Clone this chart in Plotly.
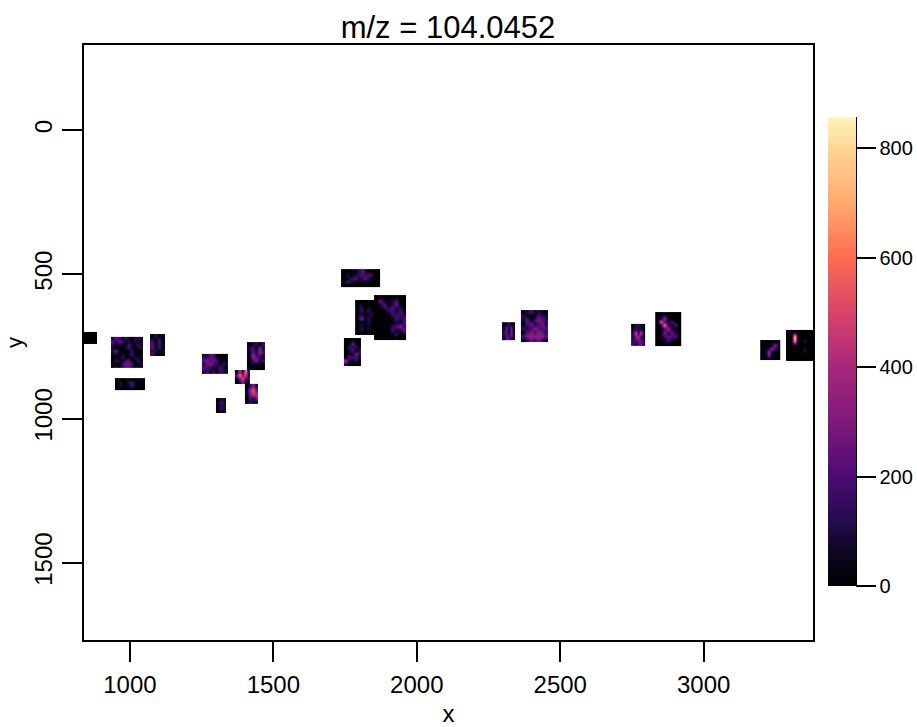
import numpy as np
import plotly.graph_objects as go

title = "m/z = 104.0452"
x_ticks = [1000, 1500, 2000, 2500, 3000]
y_ticks = [0, 500, 1000, 1500]
cbar_ticks = [0, 200, 400, 600, 800]

# colour ramp
ramp = [[0.0, "#000000"], [0.07, "#0d0722"], [0.14, "#250c4e"], [0.233, "#4d0a74"],
        [0.35, "#7d1a7a"], [0.467, "#a8277a"], [0.58, "#d9436b"], [0.70, "#fc6c50"],
        [0.82, "#feab6f"], [0.92, "#fed08f"], [1.0, "#fdf5b8"]]

# tile extents in data coordinates: x0, x1, y0, y1
t01 = (840, 885, 700, 742)
t02 = (934, 1045, 717, 825)
t03 = (1070, 1122, 707, 783)
t04 = (948, 1052, 860, 901)
t05 = (1251, 1342, 776, 846)
t06 = (1366, 1418, 832, 880)
t07 = (1408, 1471, 735, 832)
t08 = (1401, 1446, 880, 950)
t09 = (1300, 1335, 929, 981)
t10 = (1736, 1872, 482, 544)
t11 = (1785, 1865, 589, 711)
t12 = (1851, 1962, 572, 728)
t13 = (1746, 1805, 721, 818)
t14 = (2297, 2342, 666, 728)
t15 = (2363, 2457, 624, 735)
t16 = (2747, 2796, 672, 749)
t17 = (2831, 2921, 631, 749)
t18 = (3197, 3266, 728, 797)
t19 = (3287, 3381, 693, 801)

# intensity grids
z01 = [[0, 20, 5], [20, 0, 15], [0, 10, 0]]
z02 = [[90, 230, 170, 40, 150, 60, 20, 70, 130, 40],
       [210, 120, 260, 190, 30, 110, 10, 120, 30, 90],
       [160, 30, 110, 40, 15, 180, 90, 20, 160, 10],
       [60, 10, 20, 10, 90, 210, 40, 10, 100, 130],
       [120, 280, 60, 10, 30, 20, 170, 10, 20, 10],
       [30, 70, 10, 90, 10, 60, 190, 30, 10, 70],
       [10, 30, 20, 150, 20, 10, 10, 130, 60, 30],
       [20, 150, 90, 20, 200, 240, 30, 10, 170, 10],
       [60, 20, 10, 180, 290, 270, 190, 20, 40, 110],
       [10, 80, 30, 150, 230, 250, 170, 10, 90, 20]]
z03 = [[20, 130, 30, 60], [100, 10, 180, 10], [200, 20, 190, 20],
       [220, 60, 150, 10], [90, 120, 30, 100], [190, 20, 10, 30]]
z04 = [[0, 10, 0, 30, 10, 0, 40, 0],
       [10, 130, 0, 120, 210, 20, 10, 0],
       [0, 100, 0, 60, 170, 10, 0, 0],
       [0, 0, 20, 10, 0, 0, 0, 0]]
z05 = [[90, 120, 240, 200, 30, 10, 0, 20],
       [230, 280, 200, 260, 160, 20, 60, 10],
       [130, 250, 310, 210, 140, 50, 150, 20],
       [250, 170, 120, 80, 30, 220, 60, 10],
       [20, 180, 30, 200, 10, 150, 120, 60]]
z06 = [[0, 430, 80, 680, 60],
       [240, 600, 330, 520, 20],
       [0, 310, 540, 220, 130],
       [30, 90, 360, 60, 0]]
z07 = [[0, 60, 130, 20, 160],
       [100, 220, 40, 330, 70],
       [20, 280, 90, 370, 170],
       [50, 360, 230, 170, 40],
       [10, 190, 330, 90, 140],
       [0, 80, 20, 50, 0],
       [20, 0, 0, 20, 0]]
z08 = [[0, 130, 310, 50],
       [30, 370, 540, 200],
       [60, 280, 470, 390],
       [0, 190, 140, 340],
       [0, 120, 70, 30]]
z09 = [[10, 120, 20], [40, 190, 60], [0, 150, 90], [20, 170, 30], [0, 40, 0]]
z10 = [[0, 10, 20, 30, 130, 250, 40, 20, 0, 0],
       [0, 90, 10, 70, 180, 200, 150, 220, 20, 0],
       [10, 30, 130, 220, 90, 170, 240, 40, 10, 0],
       [20, 190, 100, 30, 20, 40, 0, 10, 0, 0],
       [0, 10, 0, 0, 10, 0, 0, 0, 0, 0]]
z11 = [[0, 0, 10, 0, 30, 0],
       [10, 130, 0, 50, 10, 20],
       [0, 180, 20, 140, 30, 0],
       [10, 100, 10, 60, 110, 10],
       [0, 330, 40, 120, 20, 0],
       [20, 60, 10, 130, 0, 10],
       [0, 90, 0, 50, 10, 0],
       [0, 140, 10, 90, 0, 0],
       [0, 10, 0, 0, 10, 0]]
z12 = [[10, 40, 0, 10, 10, 20, 10, 0],
       [10, 280, 80, 10, 90, 210, 20, 0],
       [0, 60, 250, 20, 120, 260, 40, 0],
       [20, 10, 80, 190, 230, 50, 160, 30],
       [0, 0, 10, 40, 180, 100, 220, 60],
       [10, 20, 0, 10, 60, 220, 110, 180],
       [0, 10, 10, 20, 10, 90, 40, 210],
       [0, 0, 20, 10, 130, 210, 330, 120],
       [10, 0, 10, 0, 180, 40, 110, 250],
       [0, 10, 0, 10, 20, 160, 10, 40],
       [0, 0, 0, 0, 10, 0, 10, 0]]
z13 = [[10, 0, 40, 0, 0],
       [0, 20, 340, 60, 0],
       [0, 170, 110, 150, 10],
       [10, 70, 230, 40, 100],
       [0, 40, 20, 310, 120],
       [40, 230, 170, 210, 10],
       [420, 60, 10, 130, 0],
       [130, 0, 20, 10, 0]]
z14 = [[20, 60, 130, 50, 10],
       [60, 280, 120, 290, 30],
       [100, 310, 30, 300, 70],
       [130, 240, 190, 270, 90],
       [30, 250, 220, 130, 20]]
z15 = [[20, 90, 190, 60, 100, 60, 10],
       [130, 60, 10, 30, 230, 170, 70],
       [60, 250, 40, 170, 290, 240, 130],
       [20, 200, 270, 90, 180, 300, 90],
       [140, 90, 190, 310, 250, 200, 220],
       [30, 240, 290, 200, 300, 260, 110],
       [170, 320, 350, 310, 360, 330, 230],
       [20, 120, 250, 170, 270, 150, 30]]
z16 = [[10, 110, 130, 70, 10],
       [50, 160, 70, 120, 30],
       [130, 520, 110, 470, 80],
       [100, 300, 420, 170, 40],
       [130, 190, 230, 280, 150],
       [170, 100, 190, 270, 90]]
z17 = [[0, 0, 40, 10, 0, 0, 0],
       [10, 40, 340, 40, 10, 10, 0],
       [50, 640, 220, 90, 210, 40, 0],
       [10, 70, 610, 150, 70, 190, 0],
       [0, 20, 150, 370, 60, 40, 10],
       [0, 30, 300, 110, 280, 130, 20],
       [10, 50, 150, 270, 200, 230, 10],
       [0, 10, 70, 180, 90, 30, 0],
       [0, 0, 10, 20, 0, 10, 0]]
z18 = [[0, 0, 10, 0, 0, 0],
       [0, 10, 20, 50, 320, 10],
       [50, 10, 90, 400, 150, 0],
       [0, 20, 440, 20, 10, 0],
       [0, 0, 370, 10, 0, 0],
       [0, 0, 0, 0, 0, 0]]
z19 = [[0, 0, 0, 0, 0, 0, 0, 0],
       [0, 0, 857, 10, 0, 0, 0, 0],
       [0, 10, 720, 0, 10, 120, 0, 0],
       [0, 0, 20, 0, 0, 10, 0, 0],
       [0, 0, 0, 0, 10, 130, 0, 0],
       [0, 0, 0, 0, 0, 0, 0, 0],
       [0, 0, 0, 0, 0, 0, 0, 0]]

tiles = [(t01, z01), (t02, z02), (t03, z03), (t04, z04), (t05, z05), (t06, z06),
         (t07, z07), (t08, z08), (t09, z09), (t10, z10), (t11, z11), (t13, z13),
         (t12, z12), (t14, z14), (t15, z15), (t16, z16), (t17, z17), (t18, z18),
         (t19, z19)]

FONT = "Liberation Sans"
fig = go.Figure()
for i, (ext, z) in enumerate(tiles):
    z = np.array(z)
    x0, x1, y0, y1 = ext
    dx = (x1 - x0) / z.shape[1]
    dy = (y1 - y0) / z.shape[0]
    fig.add_trace(go.Heatmap(
        z=z, x0=x0 + dx / 2, dx=dx, y0=y0 + dy / 2, dy=dy,
        colorscale=ramp, zmin=0, zmax=857, zsmooth="best",
        showscale=(i == 0), hoverinfo="skip",
        colorbar=dict(
            thickness=28, thicknessmode="pixels", len=469, lenmode="pixels",
            x=1.0206, xanchor="left", y=0.0908, yanchor="bottom", xpad=0, ypad=0,
            outlinewidth=0, tickmode="array", tickvals=cbar_ticks,
            ticks="outside", ticklen=20, tickwidth=2, tickcolor="black",
            tickfont=dict(family=FONT, size=20, color="black"),
        ),
    ))

axis_common = dict(
    showgrid=False, zeroline=False, showline=True, mirror=True,
    linecolor="black", linewidth=2, ticks="outside", ticklen=20, tickwidth=2,
    tickcolor="black", tickfont=dict(family=FONT, size=24, color="black"),
)
fig.update_xaxes(range=[840, 3381], tickmode="array", tickvals=x_ticks, ticklabelstandoff=2,
                 title=dict(text="x", font=dict(family=FONT, size=24, color="black"), standoff=13),
                 **axis_common)
fig.update_yaxes(range=[1768, -295], tickmode="array", tickvals=y_ticks, tickangle=-90,
                 title=dict(text="y", font=dict(family=FONT, size=22, color="black"), standoff=2),
                 **axis_common)
fig.add_shape(type="line", xref="paper", yref="paper", x0=1.0590, x1=1.0590,
              y0=0.0908, y1=0.8790, line=dict(color="black", width=2))
fig.update_layout(
    width=917, height=727, autosize=False,
    margin=dict(l=84, r=104, t=45, b=87, autoexpand=False),
    paper_bgcolor="white", plot_bgcolor="white",
    title=dict(text=title, x=0.4885, xanchor="center", y=0.962, yanchor="middle",
               font=dict(family=FONT, size=31, color="black")),
)
fig.write_html("out.html", post_script="document.body.style.margin='0';",
               config={"displayModeBar": False})
